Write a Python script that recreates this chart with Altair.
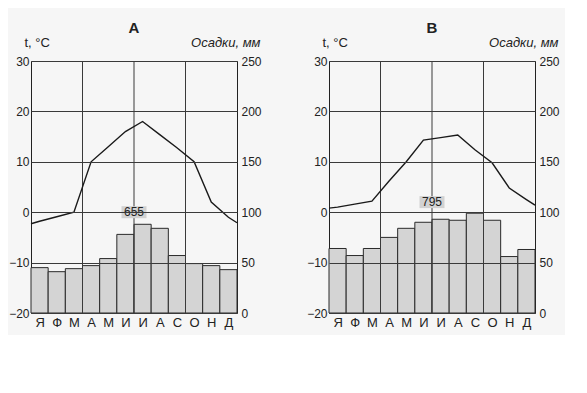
import json
import altair as alt
import pandas as pd

# ---- data ----
months = ["Я", "Ф", "М", "А", "М", "И", "И", "А", "С", "О", "Н", "Д"]
panel_titles = ["А", "В"]
precip_a = [45, 41, 44, 47, 54, 78, 88, 84, 57, 49, 47, 43]
precip_b = [64, 57, 64, 75, 84, 90, 93, 92, 99, 92, 56, 63]
temp_a = [-1.8, -0.9, 0.0, 10.0, 13.0, 16.0, 18.0, 15.4, 12.8, 10.0, 2.0, -1.0]
temp_b = [1.0, 1.6, 2.2, 6.2, 10.0, 14.3, 14.8, 15.3, 12.4, 9.8, 4.8, 2.5]
# temperature at the start of January / end of December (line runs edge to edge)
temp_a_edges = [-2.3, -2.1]
temp_b_edges = [0.8, 1.4]
totals = [655, 795]
total_label_temp = [0.0, 2.0]
temp_ticks = [-20, -10, 0, 10, 20, 30]
precip_ticks = [0, 50, 100, 150, 200, 250]
quarter_bounds = [3, 6, 9]

FONT = "Liberation Sans"
INK = "#222222"
GRID = "#3a3a3a"

label_expr = json.dumps(months, ensure_ascii=False) + "[floor(datum.value)]"


def panel(title, precip, temps, edges, total, label_t):
    xs = alt.Scale(domain=[0, 12], nice=False, zero=False)
    ts = alt.Scale(domain=[-20, 30], nice=False)
    bars_df = pd.DataFrame({"m": list(range(12)), "m2": list(range(1, 13)),
                            "p": precip, "p0": [0] * 12})
    line_df = pd.DataFrame({
        "x": [0] + [i + 0.5 for i in range(12)] + [12],
        "t": [edges[0]] + temps + [edges[1]],
    })
    q_df = pd.DataFrame({"q": quarter_bounds})
    tot_df = pd.DataFrame({"v": [str(total)], "lx": [6], "lt": [label_t]})

    x_axis = alt.Axis(values=[i + 0.5 for i in range(12)], labelExpr=label_expr,
                      grid=False, ticks=False, domain=False, title=None,
                      labelFontSize=13, labelPadding=3, labelColor=INK, labelFont=FONT)

    bars = alt.Chart(bars_df).mark_rect(color="#d4d4d4", stroke="#2a2a2a", strokeWidth=1).encode(
        x=alt.X("m:Q", scale=xs, axis=x_axis),
        x2="m2:Q",
        y=alt.Y("p:Q", scale=alt.Scale(domain=[0, 250], nice=False),
                axis=alt.Axis(orient="right", values=precip_ticks, grid=False, ticks=False,
                              domain=False, labelPadding=4, labelFontSize=12,
                              labelColor=INK, labelFont=FONT,
                              title="Осадки, мм", titleAngle=0, titleAlign="right",
                              titleBaseline="alphabetic", titleX=23, titleY=-15,
                              titleFontStyle="italic", titleFontWeight="normal",
                              titleFontSize=13, titleColor=INK, titleFont=FONT)),
        y2="p0:Q",
    )

    rules = alt.Chart(q_df).mark_rule(color=GRID, strokeWidth=1).encode(
        x=alt.X("q:Q", scale=xs, axis=x_axis),
    )

    line = alt.Chart(line_df).mark_line(color="#1a1a1a", strokeWidth=1.4).encode(
        x=alt.X("x:Q", scale=xs, axis=x_axis),
        y=alt.Y("t:Q", scale=ts,
                axis=alt.Axis(orient="left", values=temp_ticks, grid=True, gridColor=GRID,
                              gridWidth=1, ticks=False, domain=False, labelPadding=2,
                              labelFontSize=12, labelColor=INK, labelFont=FONT, zindex=1,
                              title="t, °C", titleAngle=0, titleAlign="left",
                              titleBaseline="alphabetic", titleX=-7, titleY=-15,
                              titleFontWeight="normal", titleFontSize=13,
                              titleColor=INK, titleFont=FONT)),
    )

    box = alt.Chart(tot_df).mark_rect(width=25, height=12, color="#d2d2d2").encode(
        x=alt.X("lx:Q", scale=xs, axis=x_axis),
        y=alt.Y("lt:Q", scale=ts, axis=None),
    )
    txt = alt.Chart(tot_df).mark_text(fontSize=12, font=FONT, color=INK).encode(
        x=alt.X("lx:Q", scale=xs, axis=x_axis),
        y=alt.Y("lt:Q", scale=ts, axis=None),
        text="v:N",
    )

    return alt.layer(bars, rules, line, box, txt).resolve_scale(y="independent").properties(
        width=206, height=252,
        title=alt.Title(title, fontSize=15, fontWeight="bold", font=FONT, color=INK,
                        anchor="middle", offset=0),
    )


pa = panel(panel_titles[0], precip_a, temp_a, temp_a_edges, totals[0], total_label_temp[0])
pb = panel(panel_titles[1], precip_b, temp_b, temp_b_edges, totals[1], total_label_temp[1])

chart = alt.hconcat(pa, pb, spacing=44).properties(
    padding={"left": 0, "top": 12, "right": 5, "bottom": 5},
    background="#f6f6f6",
).configure_view(stroke="#222222", strokeWidth=1)

chart.save("out.html", embed_options={"renderer": "svg", "actions": False})
